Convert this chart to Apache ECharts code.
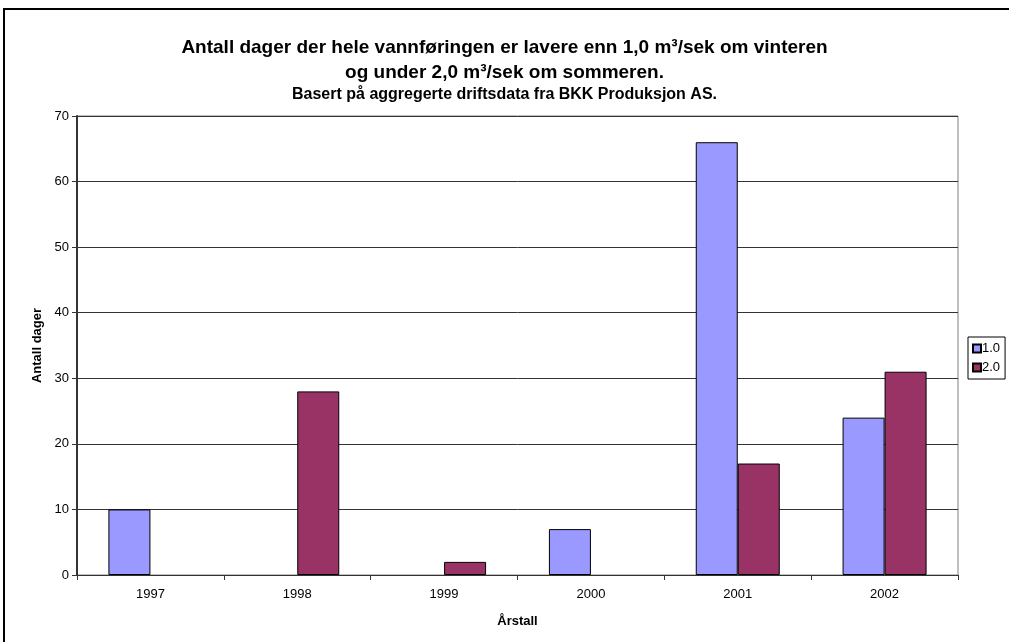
<!DOCTYPE html>
<html>
<head>
<meta charset="utf-8">
<script src="https://cdn.jsdelivr.net/npm/echarts@6/dist/echarts.min.js"></script>
<style>
  html, body { margin: 0; padding: 0; background: #fff; }
  #container { width: 1009px; height: 642px; }
</style>
</head>
<body>
<div id="container"></div>
<script>
var years = ['1997', '1998', '1999', '2000', '2001', '2002'];
// empty years are left out (null) so no flat bar gets drawn
var winter = [10, null, null, 7, 66, 24];   // 1.0
var summer = [null, 28, 2, null, 17, 31];   // 2.0
var yTicks = { min: 0, max: 70, interval: 10 };

var myChart = echarts.init(document.getElementById('container'));
var font = 'Liberation Sans, Arial, sans-serif';

var option = {
    animation: false,
    backgroundColor: '#fff',
    title: [
        {
            text: 'Antall dager der hele vannføringen er lavere enn 1,0 m³/sek om vinteren\nog under 2,0 m³/sek om sommeren.',
            left: 'center',
            top: 30,
            textStyle: { fontFamily: font, fontSize: 19, fontWeight: 'bold', color: '#000', lineHeight: 25 }
        },
        {
            text: 'Basert på aggregerte driftsdata fra BKK Produksjon AS.',
            left: 'center',
            top: 82,
            textStyle: { fontFamily: font, fontSize: 16, fontWeight: 'bold', color: '#000' }
        }
    ],
    graphic: [
        {
            type: 'rect',
            shape: { x: 4, y: 9, width: 1010, height: 640 },
            style: { fill: 'none', stroke: '#000', lineWidth: 2 },
            silent: true
        }
    ],
    legend: {
        orient: 'vertical',
        left: 968,
        top: 337,
        data: ['1.0', '2.0'],
        icon: 'rect',
        itemWidth: 8,
        itemHeight: 8,
        itemGap: 6,
        padding: [5, 5, 5, 4],
        borderColor: '#000',
        borderWidth: 1,
        textStyle: { fontFamily: font, fontSize: 13, color: '#000', padding: [0, 0, 0, -4] }
    },
    grid: {
        left: 77,
        top: 116,
        width: 881,
        height: 459,
        show: true,
        borderColor: '#808080',
        borderWidth: 1,
        containLabel: false
    },
    xAxis: {
        type: 'category',
        data: years,
        name: 'Årstall',
        nameLocation: 'middle',
        nameGap: 40,
        nameTextStyle: { fontFamily: font, fontSize: 13, fontWeight: 'bold', color: '#000' },
        axisLine: { lineStyle: { color: '#333', width: 1 } },
        axisTick: { show: true, length: 5, lineStyle: { color: '#333' } },
        axisLabel: { fontFamily: font, fontSize: 13, color: '#000', margin: 13 }
    },
    yAxis: {
        type: 'value',
        min: yTicks.min,
        max: yTicks.max,
        interval: yTicks.interval,
        name: 'Antall dager',
        nameLocation: 'middle',
        nameGap: 32,
        nameTextStyle: { fontFamily: font, fontSize: 13, fontWeight: 'bold', color: '#000' },
        axisLine: { show: true, lineStyle: { color: '#333', width: 2 } },
        axisTick: { show: true, length: 5, lineStyle: { color: '#333' } },
        axisLabel: { fontFamily: font, fontSize: 13, color: '#000', margin: 8 },
        splitLine: { show: true, lineStyle: { color: '#333', width: 1 } }
    },
    series: [
        {
            name: '1.0',
            type: 'bar',
            data: winter,
            barWidth: 42,
            barGap: '0%',
            itemStyle: { color: '#9999FF', borderColor: '#000', borderWidth: 1 }
        },
        {
            name: '2.0',
            type: 'bar',
            data: summer,
            barWidth: 42,
            barGap: '0%',
            itemStyle: { color: '#993366', borderColor: '#000', borderWidth: 1 }
        }
    ]
};

myChart.setOption(option);
</script>
</body>
</html>
